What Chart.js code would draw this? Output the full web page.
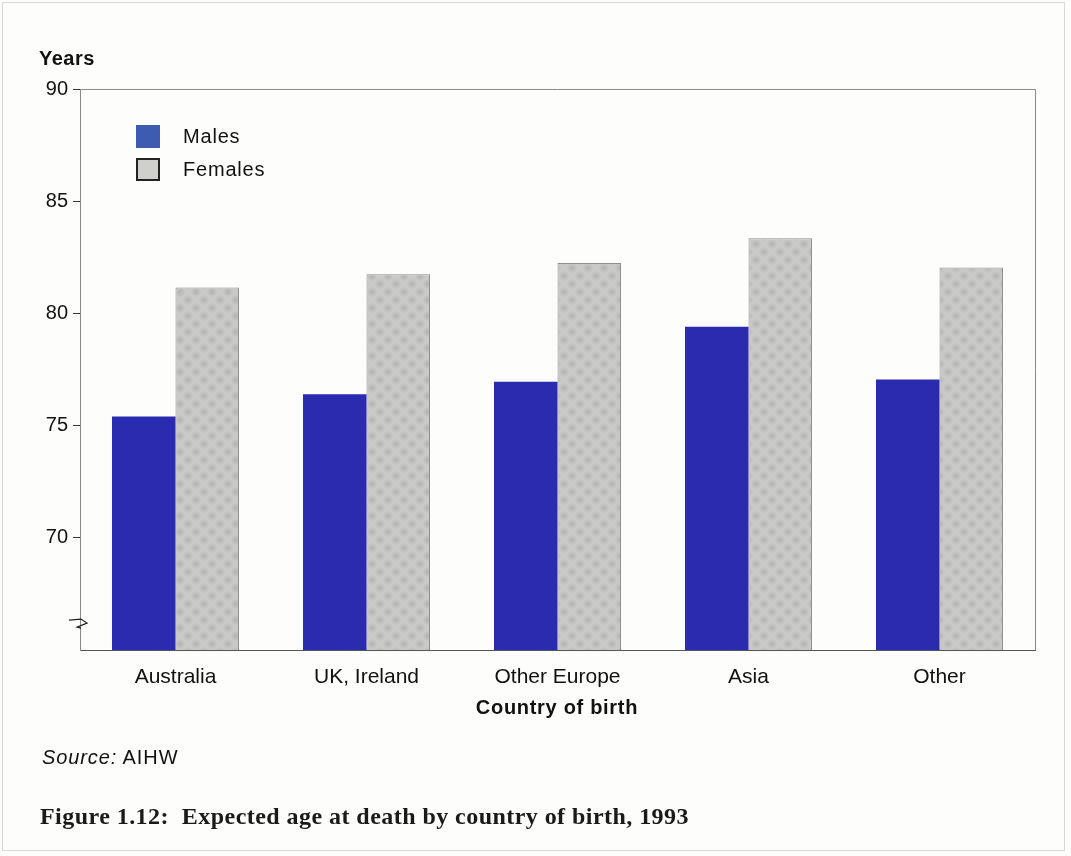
<!DOCTYPE html>
<html>
<head>
<meta charset="utf-8">
<script src="https://cdn.jsdelivr.net/npm/chart.js@4.4.1/dist/chart.umd.min.js"></script>
<style>
  html, body { margin: 0; padding: 0; background: #fdfdfb; }
  #page { position: relative; width: 1071px; height: 856px; overflow: hidden; font-family: "Liberation Sans", Arial, sans-serif; color: #111; }
  #frame { position: absolute; left: 2px; top: 2px; width: 1063px; height: 849px; border: 1px solid #d8d8d4; box-sizing: border-box; }
  #wrap { position: absolute; left: 0; top: 0; width: 1071px; height: 856px; }
  .txt { position: absolute; white-space: nowrap; }
  #ytitle { left: 39px; top: 47px; font-size: 20px; font-weight: bold; letter-spacing: 0.5px; }
  #xtitle { left: 0; width: 1114px; text-align: center; top: 696px; font-size: 20px; font-weight: bold; letter-spacing: 0.7px; }
  #source { left: 42px; top: 746px; font-size: 20px; letter-spacing: 0.9px; }
  #caption { left: 40px; top: 803px; font-family: "Liberation Serif", "DejaVu Serif", serif; font-size: 24px; font-weight: bold; letter-spacing: 0.45px; color: #1a1a1a; }
  .lg { position: absolute; left: 136px; height: 20px; font-size: 20px; letter-spacing: 0.8px; }
  .sw { position: absolute; left: 0; top: 0; width: 24px; height: 23px; box-sizing: border-box; }
  .lg span.lbl { position: absolute; left: 47px; top: 0; }
</style>
</head>
<body>
<div id="page">
  <div id="frame"></div>
  <div id="wrap"><canvas id="chart"></canvas></div>
  <div class="txt" id="ytitle">Years</div>
  <div class="lg" style="top:125px"><div class="sw" style="background:#3d5bb0"></div><span class="lbl">Males</span></div>
  <div class="lg" style="top:158px"><div class="sw" style="background:#cfd0cc;border:2px solid #222"></div><span class="lbl">Females</span></div>
  <div class="txt" id="xtitle">Country of birth</div>
  <div class="txt" id="source"><i>Source:</i> AIHW</div>
  <div class="txt" id="caption">Figure 1.12:&nbsp; Expected age at death by country of birth, 1993</div>
</div>
<script>
const countries = ['Australia', 'UK, Ireland', 'Other Europe', 'Asia', 'Other'];
const males = [75.4, 76.4, 76.95, 79.4, 77.05];
const females = [81.15, 81.75, 82.25, 83.35, 82.05];
const yTicks = [70, 75, 80, 85, 90];

// mottled grey fill for the female bars
function greyPattern() {
    const c = document.createElement('canvas');
    c.width = 16;
    c.height = 16;
    const g = c.getContext('2d');
    g.fillStyle = '#c9c9c7';
    g.fillRect(0, 0, 16, 16);
    [[4, 4], [12, 12], [12, -4], [-4, 12], [20, 4], [4, 20]].forEach(([x, y]) => {
        const r = g.createRadialGradient(x, y, 0, x, y, 5);
        r.addColorStop(0, 'rgba(150,150,148,0.45)');
        r.addColorStop(1, 'rgba(150,150,148,0)');
        g.fillStyle = r;
        g.fillRect(0, 0, 16, 16);
    });
    return g.createPattern(c, 'repeat');
}

// top/right frame of the plot and the axis break mark
const framePlugin = {
    id: 'framePlugin',
    afterDraw(chart) {
        const { ctx, chartArea: a, scales } = chart;
        ctx.save();
        ctx.strokeStyle = '#8a8a86';
        ctx.lineWidth = 1;
        ctx.beginPath();
        ctx.moveTo(a.left, a.top + 0.5);
        ctx.lineTo(a.right + 0.5, a.top + 0.5);
        ctx.lineTo(a.right + 0.5, a.bottom);
        ctx.stroke();
        const y = scales.y.getPixelForValue(66.2);
        ctx.strokeStyle = '#222';
        ctx.lineWidth = 1.2;
        ctx.beginPath();
        ctx.moveTo(a.left - 11, y - 3);
        ctx.lineTo(a.left + 1, y - 4);
        ctx.lineTo(a.left + 7, y);
        ctx.lineTo(a.left - 3, y + 4);
        ctx.lineTo(a.left + 1, y + 5);
        ctx.stroke();
        ctx.restore();
    }
};

const ctx = document.getElementById('chart').getContext('2d');
new Chart(ctx, {
    type: 'bar',
    data: {
        labels: countries,
        datasets: [
            { label: 'Males', data: males, backgroundColor: '#2b2bb0', borderWidth: 0 },
            { label: 'Females', data: females, backgroundColor: greyPattern(), borderColor: '#8f8f8c', borderWidth: 1 }
        ]
    },
    options: {
        responsive: true,
        maintainAspectRatio: false,
        animation: false,
        layout: { padding: { top: 89, right: 36, left: 0, bottom: 0 } },
        datasets: { bar: { categoryPercentage: 0.665, barPercentage: 1 } },
        plugins: { legend: { display: false }, tooltip: { enabled: false } },
        scales: {
            x: {
                afterFit: (s) => { s.height = 206; },
                grid: { display: false, drawTicks: false },
                border: { display: true, color: '#555', width: 1 },
                ticks: { padding: 15, color: '#111', font: { family: 'Liberation Sans', size: 21 } }
            },
            y: {
                min: 65,
                max: 90,
                afterFit: (s) => { s.width = 80; },
                afterBuildTicks: (s) => { s.ticks = [65].concat(yTicks).map(v => ({ value: v })); },
                grid: {
                    drawOnChartArea: false,
                    tickLength: 7,
                    tickColor: (c) => c.tick && c.tick.value === 65 ? 'rgba(0,0,0,0)' : '#333'
                },
                border: { display: true, color: '#8a8a86', width: 1 },
                ticks: {
                    padding: 5,
                    color: '#111',
                    font: { family: 'Liberation Sans', size: 20 },
                    callback: (v) => v === 65 ? '' : v
                }
            }
        }
    },
    plugins: [framePlugin]
});
</script>
</body>
</html>
